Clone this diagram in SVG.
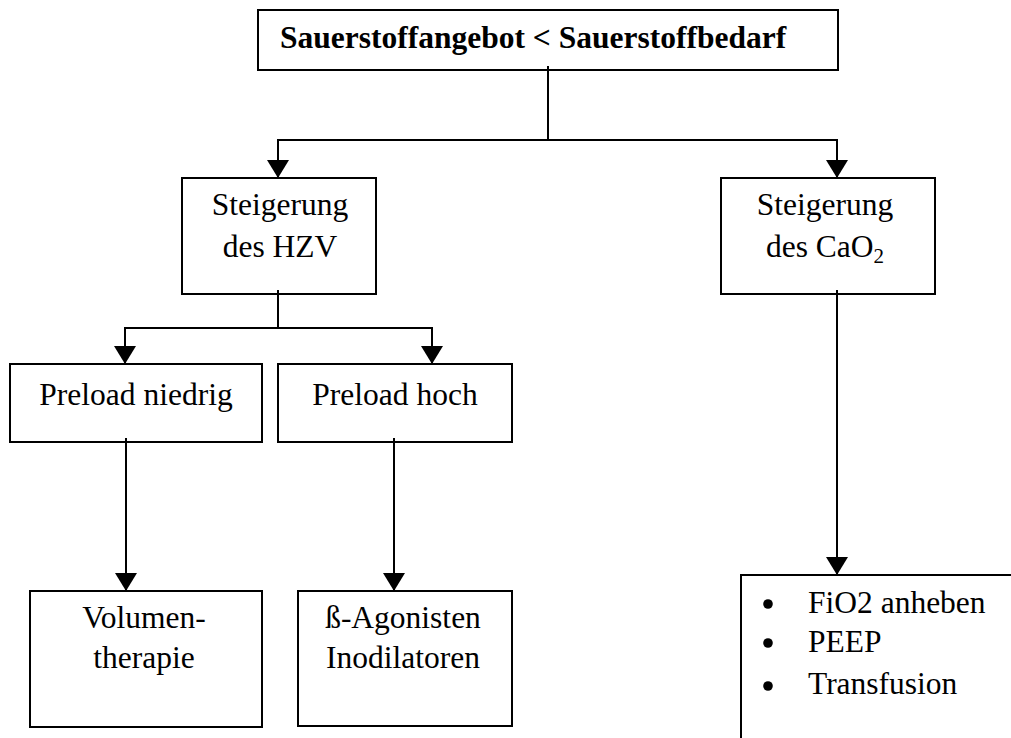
<svg xmlns="http://www.w3.org/2000/svg" width="1011" height="738" viewBox="0 0 1011 738">
  <style>
    .box { fill: #ffffff; stroke: #000000; stroke-width: 2; }
    .wire { fill: none; stroke: #000000; stroke-width: 2; }
    .lbl { font-family: "Liberation Serif", "Times New Roman", serif; font-size: 31.5px; fill: #000000; }
    .mid { text-anchor: middle; }
    .bold { font-weight: bold; }
  </style>
  <defs>
    <!-- solid triangular arrowhead, 18 long and 22 wide -->
    <marker id="arrow" markerUnits="userSpaceOnUse" markerWidth="19" markerHeight="23" refX="18" refY="11.5" orient="auto">
      <path d="M0,0.5 L18,11.5 L0,22.5 Z" fill="#000000"/>
    </marker>
  </defs>

  <rect width="1011" height="738" fill="#ffffff"/>

  <!-- boxes -->
  <g id="n-top">
    <rect class="box" x="258" y="10" width="580" height="60"/>
    <text class="lbl bold" x="280" y="48">Sauerstoffangebot &lt; Sauerstoffbedarf</text>
  </g>
  <g id="n-hzv">
    <rect class="box" x="182" y="178" width="194" height="116"/>
    <text class="lbl mid" x="280" y="215">Steigerung</text>
    <text class="lbl mid" x="280" y="257">des HZV</text>
  </g>
  <g id="n-cao2">
    <rect class="box" x="721" y="178" width="214" height="116"/>
    <text class="lbl mid" x="825" y="215">Steigerung</text>
    <text class="lbl mid" x="825" y="257">des CaO<tspan font-size="21" dy="6">2</tspan></text>
  </g>
  <g id="n-pre-low">
    <rect class="box" x="10" y="364" width="252" height="78"/>
    <text class="lbl mid" x="136" y="405">Preload niedrig</text>
  </g>
  <g id="n-pre-high">
    <rect class="box" x="278" y="364" width="234" height="78"/>
    <text class="lbl mid" x="395" y="405">Preload hoch</text>
  </g>
  <g id="n-volume">
    <rect class="box" x="30" y="591" width="232" height="136"/>
    <text class="lbl mid" x="144" y="628">Volumen-</text>
    <text class="lbl mid" x="144" y="668">therapie</text>
  </g>
  <g id="n-agonists">
    <rect class="box" x="298" y="591" width="214" height="135"/>
    <text class="lbl mid" x="403" y="628">ß-Agonisten</text>
    <text class="lbl mid" x="403" y="668">Inodilatoren</text>
  </g>
  <g id="n-measures">
    <rect class="box" x="741" y="575" width="300" height="200"/>
    <circle cx="768" cy="604" r="4.8" fill="#000000"/>
    <circle cx="768" cy="643" r="4.8" fill="#000000"/>
    <circle cx="768" cy="686" r="4.8" fill="#000000"/>
    <text class="lbl" x="808" y="613">FiO2 anheben</text>
    <text class="lbl" x="808" y="652">PEEP</text>
    <text class="lbl" x="808" y="694">Transfusion</text>
  </g>

  <!-- connectors -->
  <g id="connectors">
    <path class="wire" d="M548,66 V140"/>
    <path class="wire" d="M548,140 H278 V178" marker-end="url(#arrow)"/>
    <path class="wire" d="M548,140 H837 V178" marker-end="url(#arrow)"/>
    <path class="wire" d="M278,290 V328"/>
    <path class="wire" d="M278,328 H125 V364" marker-end="url(#arrow)"/>
    <path class="wire" d="M278,328 H432 V364" marker-end="url(#arrow)"/>
    <path class="wire" d="M126,438 V591" marker-end="url(#arrow)"/>
    <path class="wire" d="M394,438 V591" marker-end="url(#arrow)"/>
    <path class="wire" d="M837,290 V575" marker-end="url(#arrow)"/>
  </g>
</svg>
